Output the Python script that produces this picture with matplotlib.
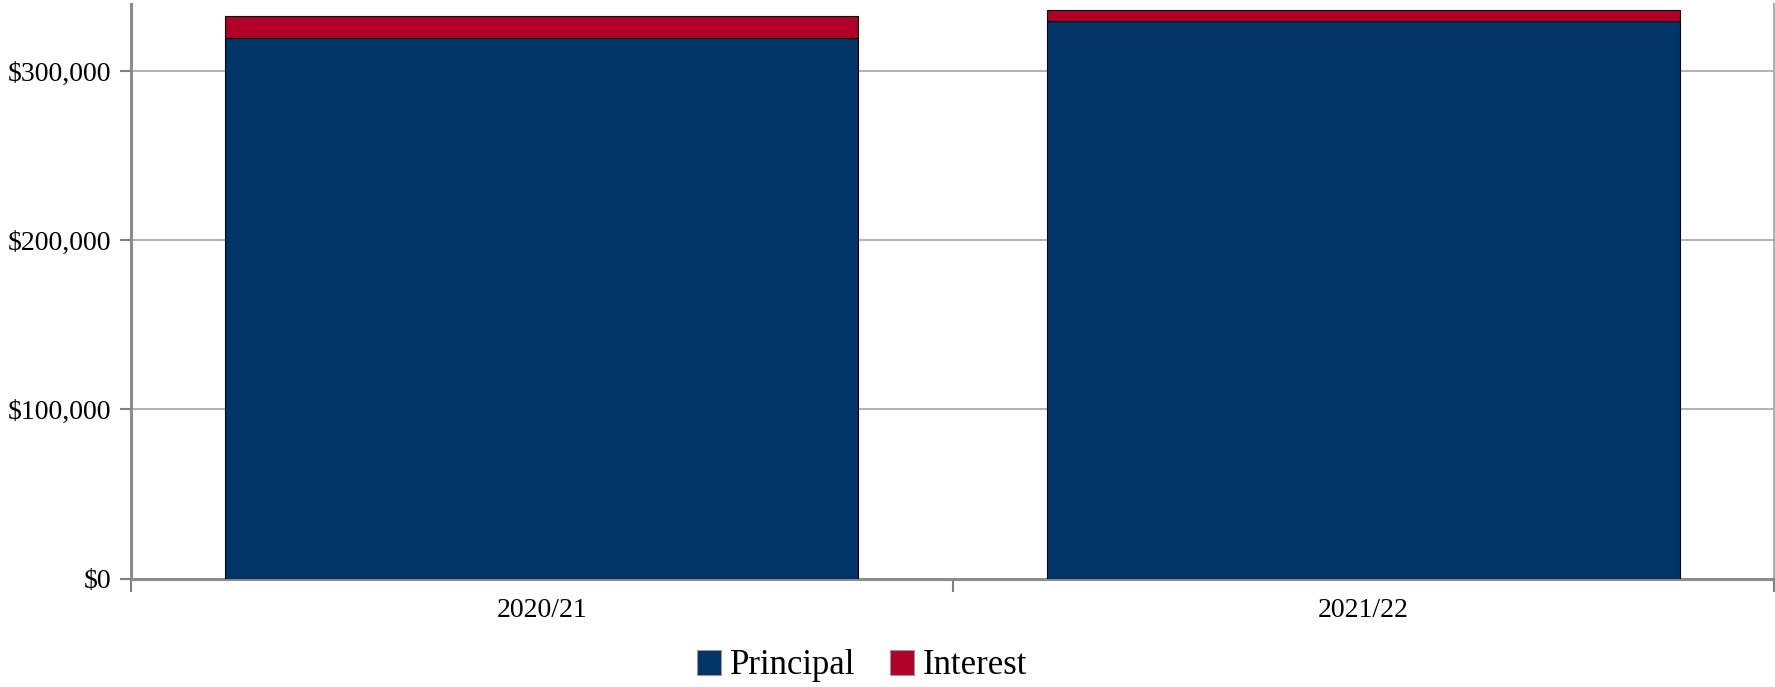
import numpy as np
import matplotlib
matplotlib.use('Agg')
import matplotlib.pyplot as plt
from matplotlib.ticker import FuncFormatter

years = ['2020/21', '2021/22']
principal = [319400, 329700]
interest = [13300, 6500]

plt.rcParams['font.family'] = ['Liberation Serif', 'DejaVu Serif']

fig = plt.figure(figsize=(17.75, 6.87), dpi=100)
ax = fig.add_axes([131 / 1775, 1 - 578.5 / 687, 1643 / 1775, 575 / 687])

x = np.arange(len(years))
ax.bar(x, principal, width=0.77, color='#003366', edgecolor='black', linewidth=0.8,
       label='Principal', zorder=3)
ax.bar(x, interest, width=0.77, bottom=principal, color='#B0002A', edgecolor='black',
       linewidth=0.8, label='Interest', zorder=3)

ax.set_xlim(-0.5, 1.5)
ax.set_ylim(0, 340000)
ax.set_yticks([0, 100000, 200000, 300000])
ax.yaxis.set_major_formatter(FuncFormatter(lambda v, p: '${:,.0f}'.format(v)))
ax.set_xticks([-0.5, 0.5, 1.5], minor=False)
ax.set_xticklabels(['', '', ''])
ax.set_xticks(x, minor=True)
ax.set_xticklabels(years, minor=True)
ax.tick_params(axis='x', which='minor', length=0, labelsize=20, pad=14)
ax.tick_params(axis='x', which='major', length=9, width=1.5, color='#808080')
ax.tick_params(axis='y', length=8, width=1.5, color='#808080', labelsize=20, pad=6)

ax.grid(axis='y', color='#A6A6A6', linewidth=1.2, zorder=0)
for s in ['left', 'bottom', 'right']:
    ax.spines[s].set_color('#8C8C8C')
    ax.spines[s].set_linewidth(2.2)
ax.spines['right'].set_color('#B0B0B0')
ax.spines['top'].set_visible(False)

handles, labels = ax.get_legend_handles_labels()
leg = fig.legend(handles, labels, loc='center', bbox_to_anchor=(862 / 1775, 1 - 666 / 687),
                 ncol=2, frameon=False, fontsize=25, handlelength=0.7, handleheight=0.7,
                 handletextpad=0.25, columnspacing=1.0, borderpad=0)
for h in leg.legend_handles:
    h.set_edgecolor('#999999')

fig.savefig('out.png', dpi=100)
